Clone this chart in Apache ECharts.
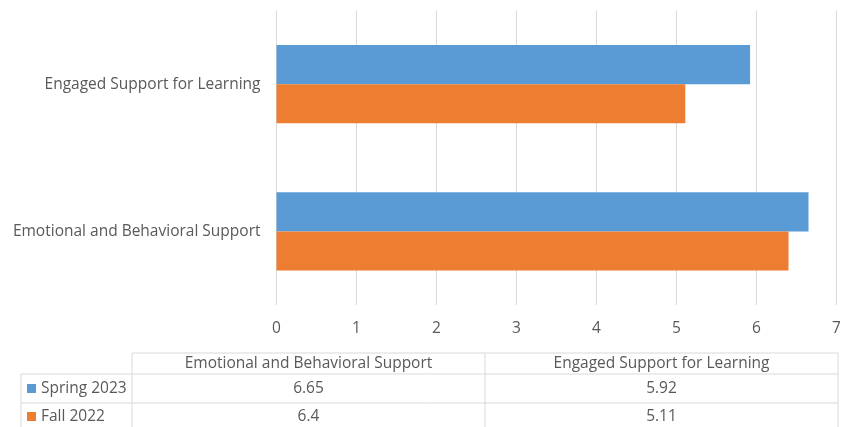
<!DOCTYPE html>
<html>
<head>
<meta charset="utf-8">
<script src="https://cdn.jsdelivr.net/npm/echarts@6/dist/echarts.min.js"></script>
<style>
html,body{margin:0;padding:0;background:#fff;}
#chart{width:845px;height:427px;}
</style>
</head>
<body>
<div id="chart"></div>
<script>
// Data
const categories = ['Emotional and Behavioral Support', 'Engaged Support for Learning'];
const seriesNames = ['Spring 2023', 'Fall 2022'];
const spring2023 = [6.65, 5.92];
const fall2022 = [6.4, 5.11];
const tableValueLabels = [['6.65', '5.92'], ['6.4', '5.11']];
const xTicks = [0, 1, 2, 3, 4, 5, 6, 7];

const colors = ['#5B9BD5', '#ED7D31'];
const FONT = 'Open Sans';
const FS = 15.5;
const TXT = '#595959';

const chart = echarts.init(document.getElementById('chart'), null, {renderer: 'canvas'});

// table geometry
const tblLeft = 21, colSep1 = 132, colSep2 = 485, tblRight = 838;
const rowY = [353, 374, 403, 432];
const lineColor = '#D9D9D9';

const graphics = [];
function line(x1, y1, x2, y2) {
  graphics.push({type: 'line', shape: {x1, y1, x2, y2}, style: {stroke: lineColor, lineWidth: 1}, silent: true});
}
line(colSep1, rowY[0], tblRight, rowY[0]);
line(tblLeft, rowY[1], tblRight, rowY[1]);
line(tblLeft, rowY[2], tblRight, rowY[2]);
line(tblLeft, rowY[3], tblRight, rowY[3]);
line(tblLeft, rowY[1], tblLeft, rowY[3]);
line(colSep1, rowY[0], colSep1, rowY[3]);
line(colSep2, rowY[0], colSep2, rowY[3]);
line(tblRight, rowY[0], tblRight, rowY[3]);

const font = FS + 'px "' + FONT + '"';
const colCenters = [(colSep1 + colSep2) / 2, (colSep2 + tblRight) / 2];
categories.forEach((c, i) => {
  graphics.push({type: 'text', style: {text: c, x: colCenters[i], y: (rowY[0] + rowY[1]) / 2, align: 'center', verticalAlign: 'middle', fill: TXT, font: font}, silent: true});
});
seriesNames.forEach((s, r) => {
  const cy = (rowY[r + 1] + Math.min(rowY[r + 2], 430)) / 2;
  graphics.push({type: 'rect', shape: {x: 27, y: cy - 4.5, width: 9, height: 9}, style: {fill: colors[r]}, silent: true});
  graphics.push({type: 'text', style: {text: s, x: 41, y: cy, align: 'left', verticalAlign: 'middle', fill: TXT, font: font}, silent: true});
  tableValueLabels[r].forEach((v, i) => {
    graphics.push({type: 'text', style: {text: v, x: colCenters[i], y: cy, align: 'center', verticalAlign: 'middle', fill: TXT, font: font}, silent: true});
  });
});

const option = {
  animation: false,
  backgroundColor: '#fff',
  textStyle: {fontFamily: FONT},
  grid: {left: 276.5, right: 845 - 836.5, top: 10.5, bottom: 427 - 305, containLabel: false},
  xAxis: {
    type: 'value', min: xTicks[0], max: xTicks[xTicks.length - 1], interval: 1,
    axisLine: {show: false}, axisTick: {show: false},
    splitLine: {show: true, lineStyle: {color: lineColor, width: 1}},
    axisLabel: {color: TXT, fontSize: FS, fontFamily: FONT, margin: 16}
  },
  yAxis: {
    type: 'category', data: categories,
    axisLine: {show: false}, axisTick: {show: false},
    axisLabel: {color: TXT, fontSize: FS, fontFamily: FONT, margin: 16}
  },
  series: [
    {name: seriesNames[0], type: 'bar', data: spring2023, itemStyle: {color: colors[0]}, barGap: '0%', barCategoryGap: '47%'},
    {name: seriesNames[1], type: 'bar', data: fall2022, itemStyle: {color: colors[1]}, barGap: '0%', barCategoryGap: '47%'}
  ],
  graphic: graphics
};
chart.setOption(option);
</script>
</body>
</html>
